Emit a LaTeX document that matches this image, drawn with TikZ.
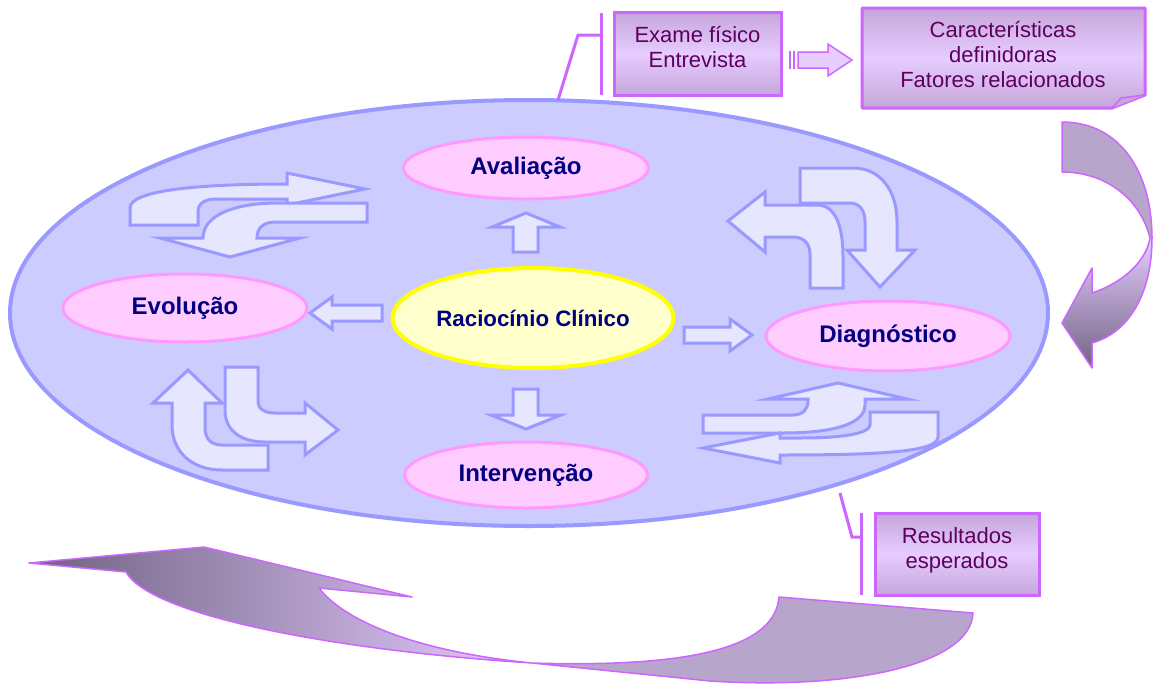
\documentclass[tikz,border=0pt]{standalone}
\usepackage{fontspec}
\setmainfont{Liberation Sans}
\usetikzlibrary{shapes.geometric}
\definecolor{ovalfill}{HTML}{CCCCFF}
\definecolor{ovalline}{HTML}{9999FF}
\definecolor{pinkfill}{HTML}{FFCCFF}
\definecolor{pinkline}{HTML}{FF99FF}
\definecolor{yelfill}{HTML}{FFFFCC}
\definecolor{yelline}{HTML}{FFFF00}
\definecolor{navy}{HTML}{000080}
\definecolor{decofill}{HTML}{E6E6FF}
\definecolor{boxline}{HTML}{CC66FF}
\definecolor{boxlight}{HTML}{E6CCFF}
\definecolor{boxdark}{HTML}{C6A6DA}
\definecolor{boxtext}{HTML}{5E005E}
\definecolor{plum}{HTML}{B8A5CC}
\definecolor{plumdark}{HTML}{6E6080}
\begin{document}
\begin{tikzpicture}[x=1pt,y=-1pt,
  stage/.style={ellipse, draw=pinkline, fill=pinkfill, line width=3pt, inner sep=0pt,
    font=\bfseries\fontsize{24}{28}\selectfont, text=navy},
  deco/.style={draw=ovalline, fill=decofill, line width=3pt, line join=miter},
  infobox/.style={draw=boxline, line width=3pt, top color=boxdark, bottom color=boxdark,
    middle color=boxlight, inner sep=0pt},
  boxtxt/.style={font=\fontsize{22}{25}\selectfont, text=boxtext, align=center, inner sep=0pt},
  brk/.style={draw=boxline, line width=3pt}]
\useasboundingbox (0,0) rectangle (1157,683);

% main oval
\node[ellipse, draw=ovalline, fill=ovalfill, line width=4pt, minimum width=1038pt, minimum height=426pt, inner sep=0pt] (oval) at (529,313) {};

% decorative curved arrows: top-left
\path[deco] (130,225) -- (130,208) .. controls (130,190) and (200,184) .. (287,184) -- (287,173) -- (365,189) -- (287,205) -- (287,199) -- (217,199) .. controls (205,199) and (198,203) .. (198,212) -- (198,225) -- cycle;
\path[deco] (367,203) -- (278,203) .. controls (235,203) and (203,215) .. (203,238) -- (160,238) -- (230,257) -- (300,238) -- (257,238) .. controls (257,228) and (263,222) .. (276,222) -- (367,222) -- cycle;
% top-right
\path[deco] (800,168) -- (853,168) .. controls (880,168) and (897,190) .. (897,222) -- (897,250) -- (915,250) -- (880,287) -- (847,250) -- (865,250) -- (865,222) .. controls (865,211) and (860,203) .. (850,203) -- (800,203) -- cycle;
\path[deco] (728,221) -- (765,192) -- (765,205) -- (817,205) .. controls (835,205) and (843,225) .. (843,257) -- (843,288) -- (810,288) -- (810,254) .. controls (810,243) and (803,237) .. (793,237) -- (765,237) -- (765,252) -- cycle;
% bottom-left
\path[deco] (188,370) -- (222,403) -- (205,403) -- (205,427) .. controls (205,439) and (211,445) .. (222,445) -- (268,445) -- (268,470) -- (222,470) .. controls (192,470) and (172,452) .. (172,425) -- (172,403) -- (153,403) -- cycle;
\path[deco] (225,367) -- (258,367) -- (258,402) .. controls (258,409) and (265,413) .. (275,413) -- (305,413) -- (305,403) -- (338,430) -- (305,455) -- (305,442) -- (265,442) .. controls (240,442) and (225,430) .. (225,410) -- cycle;
% bottom-right
\path[deco] (703,415) -- (793,415) .. controls (803,415) and (808,409) .. (808,401) -- (808,399) -- (768,399) -- (838,383) -- (907,399) -- (865,399) -- (865,405) .. controls (865,425) and (830,433) .. (783,433) -- (703,433) -- cycle;
\path[deco] (870,412) -- (938,412) -- (938,437) .. controls (938,452) and (880,455) .. (780,455) -- (780,463) -- (703,448) -- (780,433) -- (780,438) -- (800,438) .. controls (850,438) and (870,432) .. (870,425) -- cycle;

% stage ellipses
\node[stage, minimum width=245pt, minimum height=62pt] (aval) at (526,168) {Avaliação};
\node[stage, minimum width=244pt, minimum height=68pt] (evol) at (185,308) {Evolução};
\node[stage, minimum width=244pt, minimum height=70pt] (diag) at (888,336) {Diagnóstico};
\node[stage, minimum width=243pt, minimum height=66pt] (interv) at (526,475) {Intervenção};
\node[ellipse, draw=yelline, fill=yelfill, line width=4pt, inner sep=0pt, minimum width=281pt, minimum height=100pt,
  font=\bfseries\fontsize{22.3}{26}\selectfont, text=navy] (rac) at (533,318) {Raciocínio Clínico};

% small block arrows
\path[deco] (513,252) -- (513,227) -- (492,227) -- (526,213) -- (560,227) -- (538,227) -- (538,252) -- cycle;
\path[deco] (382,305) -- (332,305) -- (332,297) -- (310,313) -- (332,329) -- (332,321) -- (382,321) -- cycle;
\path[deco] (684,327) -- (730,327) -- (730,319) -- (752,335) -- (730,351) -- (730,343) -- (684,343) -- cycle;
\path[deco] (513,389) -- (538,389) -- (538,415) -- (561,415) -- (526,429) -- (491,415) -- (513,415) -- cycle;

% right big curved arrow
\def\rarrow{(1062,122) .. controls (1120,122) and (1152,172) .. (1152,238) .. controls (1152,295) and (1128,333) .. (1092,343) -- (1092,368) -- (1062,323) -- (1092,268) -- (1092,293) .. controls (1122,283) and (1146,262) .. (1150,238) .. controls (1140,198) and (1105,172) .. (1062,172) -- cycle}
\fill[plum] \rarrow;
\begin{scope}
\clip \rarrow;
\shade[top color=boxlight, bottom color=plumdark] (1040,238) rectangle (1160,372);
\end{scope}
\draw[draw=boxline, line width=1.5pt, line join=round] \rarrow;

% bottom big curved arrow
\def\barrow{(29,563) -- (204,547) -- (412,597) -- (319,588) .. controls (345,622) and (420,652) .. (532,663) .. controls (700,668) and (775,645) .. (779,597) -- (973,613) .. controls (971,665) and (850,690) .. (710,681) -- (532,663) .. controls (330,650) and (150,615) .. (126,572) -- cycle}
\fill[plum] \barrow;
\begin{scope}
\clip \barrow;
\shade[left color=plumdark, right color=boxlight] (25,540) rectangle (533,683);
\end{scope}
\draw[draw=boxline, line width=1.5pt, line join=round] \barrow;

% top boxes
\draw[brk] (558,100) -- (578,35) -- (601,35);
\draw[brk] (601,13) -- (601,95);
\node[infobox, minimum width=167pt, minimum height=83pt] (exam) at (697.5,53.5) {};
\node[boxtxt] (examtxt) at (697.5,47) {Exame físico\\Entrevista};

\path[draw=boxline, line width=3pt, top color=boxdark, bottom color=boxdark, middle color=boxlight, line join=round]
  (862,8) -- (1145,8) -- (1145,95) -- (1112,108) -- (862,108) -- cycle;
\path[draw=boxline, line width=1.5pt, fill=boxdark, line join=round] (1145,95) -- (1121,98) -- (1112,108);
\node[boxtxt] (carac) at (1003,55) {Características\\definidoras\\Fatores relacionados};

% striped arrow between boxes
\fill[boxline] (789,51) rectangle (791,69);
\fill[boxline] (793,51) rectangle (795,69);
\draw[draw=boxline, fill=boxlight, line width=1.5pt] (798,52) -- (828,52) -- (828,44) -- (852,60) -- (828,76) -- (828,68) -- (798,68) -- cycle;

% bottom box
\draw[brk] (840,493) -- (852,537) -- (861,537);
\draw[brk] (861,513) -- (861,595);
\node[infobox, minimum width=164pt, minimum height=82pt] (result) at (957,554) {};
\node[boxtxt] (resulttxt) at (957,550) {Resultados\\esperados};
\end{tikzpicture}
\end{document}
